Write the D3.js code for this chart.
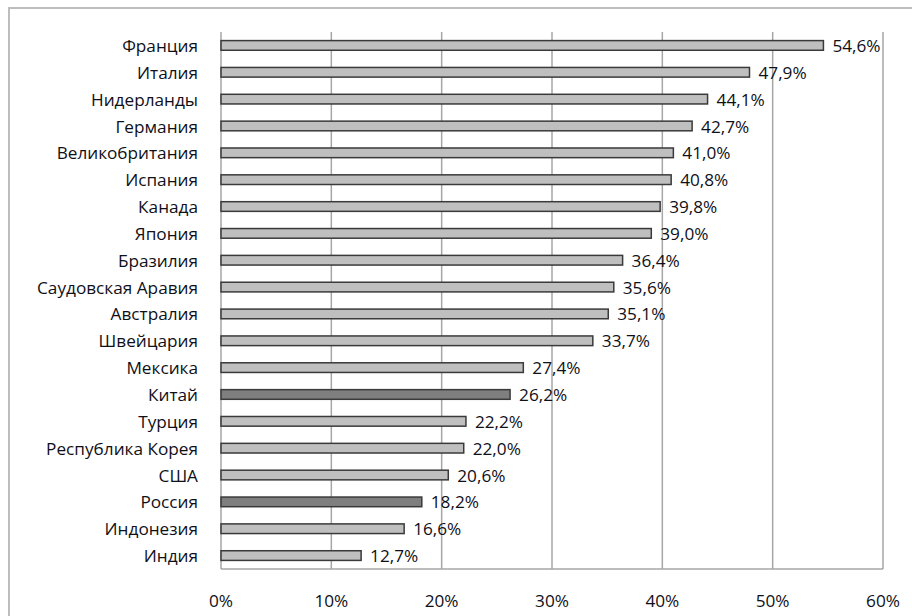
<!DOCTYPE html>
<html>
<head>
<meta charset="utf-8">
<script src="https://cdn.jsdelivr.net/npm/d3@7"></script>
<style>
  body { margin: 0; background: #fff; }
  text { font-family: "Open Sans", "DejaVu Sans", sans-serif; fill: #101018; }
</style>
</head>
<body>
<svg id="chart" width="912" height="616"></svg>
<script>
const countries = ['Франция', 'Италия', 'Нидерланды', 'Германия', 'Великобритания', 'Испания',
  'Канада', 'Япония', 'Бразилия', 'Саудовская Аравия', 'Австралия', 'Швейцария', 'Мексика',
  'Китай', 'Турция', 'Республика Корея', 'США', 'Россия', 'Индонезия', 'Индия']
const values = [54.6, 47.9, 44.1, 42.7, 41.0, 40.8, 39.8, 39.0, 36.4, 35.6, 35.1, 33.7, 27.4,
  26.2, 22.2, 22.0, 20.6, 18.2, 16.6, 12.7]
const highlighted = ['Китай', 'Россия']
const ticks = [0, 10, 20, 30, 40, 50, 60]

const data = countries.map((c, i) => ({ country: c, value: values[i] }))

const plotLeft = 221, plotRight = 883, plotTop = 32, plotBottom = 569
const fontSize = 17.2

const svg = d3.select('#chart')

// outer frame
svg.append('rect')
  .attr('x', 9).attr('y', 8).attr('width', 920).attr('height', 640)
  .attr('fill', 'none').attr('stroke', '#bdbdbd').attr('stroke-width', 2)

const x = d3.scaleLinear().domain([0, 60]).range([plotLeft, plotRight])
const y = d3.scaleBand().domain(countries).range([plotTop, plotBottom]).paddingInner(0.64).paddingOuter(0.32)

// gridlines
svg.append('g')
  .selectAll('line')
  .data(ticks.slice(1))
  .join('line')
  .attr('x1', d => x(d)).attr('x2', d => x(d))
  .attr('y1', plotTop).attr('y2', plotBottom)
  .attr('stroke', '#a6a6a6').attr('stroke-width', 1.5)

// plot edges
svg.append('line')
  .attr('x1', plotLeft).attr('x2', plotRight).attr('y1', plotBottom).attr('y2', plotBottom)
  .attr('stroke', '#a6a6a6').attr('stroke-width', 1.5)
svg.append('line')
  .attr('x1', plotLeft).attr('x2', plotLeft).attr('y1', plotTop).attr('y2', plotBottom)
  .attr('stroke', '#a6a6a6').attr('stroke-width', 1.5)

// bars
svg.append('g')
  .selectAll('rect')
  .data(data)
  .join('rect')
  .attr('x', x(0))
  .attr('y', d => y(d.country))
  .attr('width', d => x(d.value) - x(0))
  .attr('height', y.bandwidth())
  .attr('fill', d => highlighted.includes(d.country) ? '#7f7f7f' : '#bfbfbf')
  .attr('stroke', '#3a3a3a')
  .attr('stroke-width', 1.5)

// value labels
svg.append('g')
  .selectAll('text')
  .data(data)
  .join('text')
  .attr('x', d => x(d.value) + 9)
  .attr('y', d => y(d.country) + y.bandwidth() / 2)
  .attr('dy', '0.38em')
  .attr('font-size', fontSize)
  .text(d => d3.format('.1f')(d.value).replace('.', ',') + '%')

// category labels
svg.append('g')
  .selectAll('text')
  .data(data)
  .join('text')
  .attr('x', 198)
  .attr('y', d => y(d.country) + y.bandwidth() / 2)
  .attr('dy', '0.38em')
  .attr('text-anchor', 'end')
  .attr('font-size', fontSize)
  .text(d => d.country)

// x tick labels
svg.append('g')
  .selectAll('text')
  .data(ticks)
  .join('text')
  .attr('x', d => x(d))
  .attr('y', 600)
  .attr('dy', '0.38em')
  .attr('text-anchor', 'middle')
  .attr('font-size', fontSize)
  .text(d => d + '%')
</script>
</body>
</html>
